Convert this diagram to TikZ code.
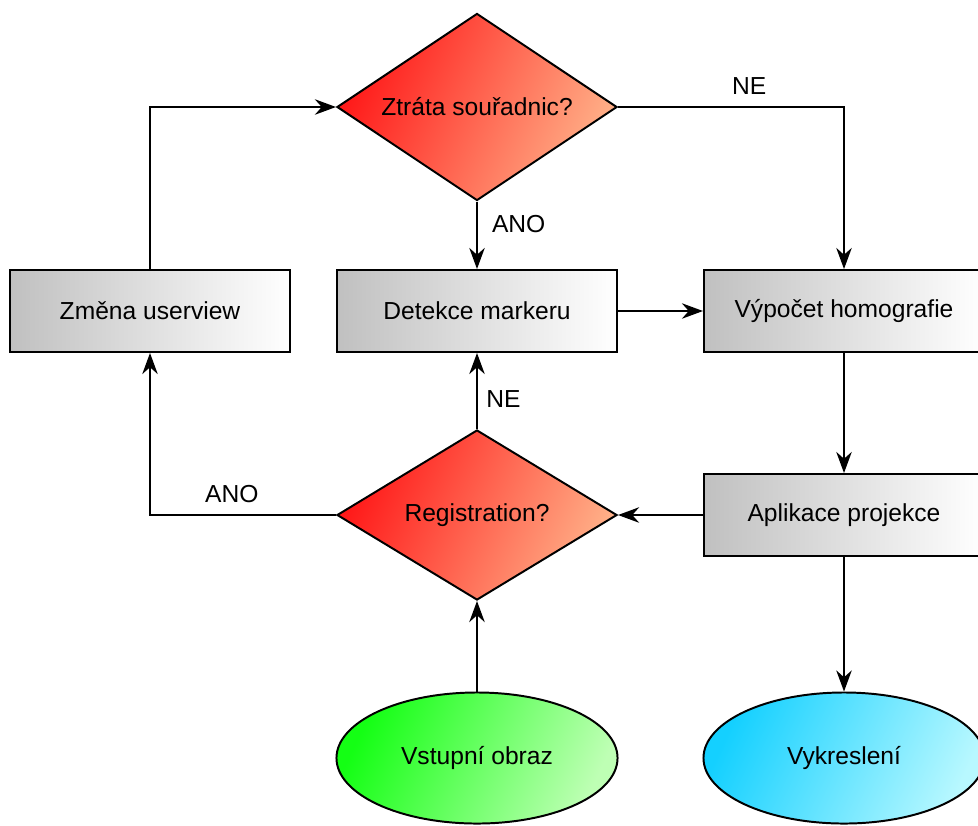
\documentclass[tikz,border=0pt]{standalone}
\usepackage{fontspec}
\setmainfont{Liberation Sans}
\usetikzlibrary{shapes.geometric,arrows.meta}
\definecolor{boxleft}{RGB}{192,192,192}
\definecolor{redleft}{RGB}{255,24,24}
\definecolor{redright}{RGB}{255,176,136}
\definecolor{greenleft}{RGB}{20,255,20}
\definecolor{greenright}{RGB}{190,255,180}
\definecolor{cyanleft}{RGB}{20,208,255}
\definecolor{cyanright}{RGB}{184,248,255}
\tikzset{>={Stealth[length=15pt,width=11pt]},
  process/.style = {rectangle,draw=black,left color=boxleft,right color=white,
    minimum width=7cm,minimum height=2.05cm,inner sep=0pt},
  decision/.style = {diamond,draw=black,left color=redleft,right color=redright,
    shading angle=65,minimum width=7cm,inner sep=0pt,aspect=1.5},
  terminal/.style = {ellipse,draw=black,shading angle=65,
    minimum width=7.025cm,minimum height=3.275cm,inner sep=0pt},
  label/.style = {inner sep=2pt}
}

\begin{document}
\begin{tikzpicture}[x=0.025cm,y=-0.025cm,line width=1.4pt,
    font=\fontsize{17.5}{20}\selectfont]
  \useasboundingbox (0,0) rectangle (978,825);

  % nodes
  \node[decision,minimum height=4.675cm] (lost) at (477,107) {Ztráta souřadnic?};
  \node[process] (user) at (150,311) {Změna userview};
  \node[process] (detect) at (477,311) {Detekce markeru};
  \node[process] (homog) at (844,311) {Výpočet homografie};
  \node[process] (proj) at (844,515) {Aplikace projekce};
  \node[decision,minimum height=4.25cm] (reg) at (477,515) {Registration?};
  \node[terminal,left color=greenleft,right color=greenright,shading angle=65]
    (input) at (477,758) {Vstupní obraz};
  \node[terminal,left color=cyanleft,right color=cyanright,shading angle=65]
    (render) at (844,758) {Vykreslení};

  % connectors
  \draw[->] (user.north) |- (lost.west);
  \draw[->] (lost.east) -| (homog.north) node[label,pos=0.29,above=6pt]{NE};
  \draw[->] (lost.south) -- (detect.north) node[label,pos=0.33,right=8pt]{ANO};
  \draw[->] (detect.east) -- (homog.west);
  \draw[->] (homog.south) -- (proj.north);
  \draw[->] (proj.west) -- (reg.east);
  \draw[->] (reg.north) -- (detect.south) node[label,pos=0.4,right=4pt]{NE};
  \draw[->] (reg.west) -| (user.south) node[label,pos=0.28,above=6pt]{ANO};
  \draw[->] (input.north) -- (reg.south);
  \draw[->] (proj.south) -- (render.north);
\end{tikzpicture}
\end{document}
